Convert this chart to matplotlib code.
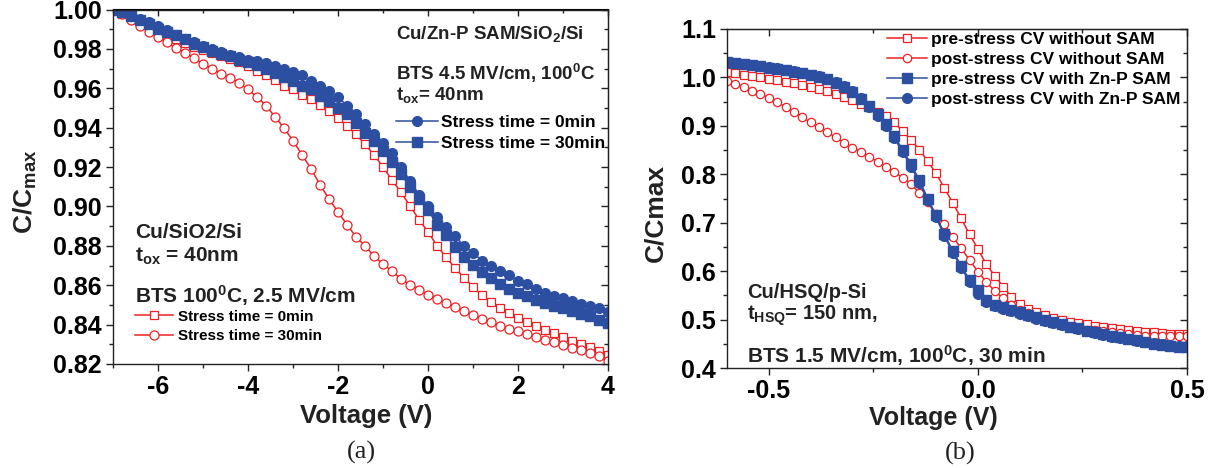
import matplotlib
matplotlib.use('Agg')
import matplotlib.pyplot as plt
from matplotlib.ticker import MultipleLocator, FormatStrFormatter, NullFormatter

plt.rcParams['font.family'] = ['Liberation Sans', 'DejaVu Sans']
plt.rcParams['font.weight'] = 'bold'
plt.rcParams['mathtext.fontset'] = 'custom'
plt.rcParams['mathtext.rm'] = 'Liberation Sans:bold'
plt.rcParams['mathtext.bf'] = 'Liberation Sans:bold'
plt.rcParams['mathtext.it'] = 'Liberation Sans:bold'
plt.rcParams['mathtext.default'] = 'bf'
plt.rcParams['axes.unicode_minus'] = False

#Panel (a): Cu/SiO2/Si with and without Zn-P SAM, gate sweep in V
volt_a = [-7.0, -6.8, -6.6, -6.4, -6.2, -6.0, -5.8, -5.6, -5.4, -5.2, -5.0, -4.8, -4.6, -4.4,
          -4.2, -4.0, -3.8, -3.6, -3.4, -3.2, -3.0, -2.8, -2.6, -2.4, -2.2, -2.0, -1.8, -1.6,
          -1.4, -1.2, -1.0, -0.8, -0.6, -0.4, -0.2, 0.0, 0.2, 0.4, 0.6, 0.8, 1.0, 1.2, 1.4, 1.6,
          1.8, 2.0, 2.2, 2.4, 2.6, 2.8, 3.0, 3.2, 3.4, 3.6, 3.8, 4.0]
nosam_0min = [1.000, 0.9975, 0.9955, 0.9935, 0.9913, 0.9893, 0.9873, 0.9852, 0.9832, 0.9812,
              0.9795, 0.9778, 0.9762, 0.9748, 0.9733, 0.9713, 0.9690, 0.9665, 0.9641, 0.9614,
              0.9594, 0.9568, 0.9546, 0.9517, 0.9487, 0.9450, 0.9410, 0.9366, 0.9316, 0.9262,
              0.9201, 0.9134, 0.9072, 0.9003, 0.8933, 0.8871, 0.8801, 0.8743, 0.8687, 0.8639,
              0.8593, 0.8548, 0.8515, 0.8482, 0.8457, 0.8432, 0.8412, 0.8391, 0.8373, 0.8356,
              0.8335, 0.8318, 0.8300, 0.8285, 0.8267, 0.8247]
nosam_30min = [1.000, 0.9975, 0.9946, 0.9915, 0.9887, 0.9859, 0.9834, 0.9804, 0.9780, 0.9753,
               0.9724, 0.9700, 0.9675, 0.9653, 0.9627, 0.9594, 0.9556, 0.9512, 0.9455, 0.9399,
               0.9333, 0.9263, 0.9191, 0.9111, 0.9038, 0.8971, 0.8908, 0.8845, 0.8801, 0.8747,
               0.8708, 0.8671, 0.8632, 0.8603, 0.8578, 0.8552, 0.8530, 0.8510, 0.8490, 0.8468,
               0.8451, 0.8429, 0.8412, 0.8395, 0.8380, 0.8366, 0.8353, 0.8337, 0.8324, 0.8310,
               0.8297, 0.8283, 0.8270, 0.8256, 0.8242, 0.8214]
sam_0min = [1.000, 0.9992, 0.9975, 0.9953, 0.9936, 0.9915, 0.9895, 0.9873, 0.9851, 0.9834,
            0.9814, 0.9797, 0.9783, 0.9771, 0.9760, 0.9746, 0.9736, 0.9726, 0.9712, 0.9699,
            0.9682, 0.9665, 0.9636, 0.9611, 0.9585, 0.9556, 0.9512, 0.9467, 0.9417, 0.9366,
            0.9320, 0.9270, 0.9200, 0.9130, 0.9060, 0.9000, 0.8946, 0.8896, 0.8850, 0.8800,
            0.8765, 0.8725, 0.8700, 0.8670, 0.8650, 0.8620, 0.8607, 0.8583, 0.8563, 0.8545,
            0.8533, 0.8520, 0.8503, 0.8494, 0.8482, 0.8462]
sam_30min = [1.000, 0.9986, 0.9966, 0.9946, 0.9924, 0.9903, 0.9885, 0.9868, 0.9848, 0.9827,
             0.9809, 0.9788, 0.9776, 0.9763, 0.9746, 0.9732, 0.9716, 0.9700, 0.9678, 0.9658,
             0.9636, 0.9611, 0.9594, 0.9560, 0.9534, 0.9500, 0.9467, 0.9422, 0.9375, 0.9332,
             0.9282, 0.9225, 0.9164, 0.9098, 0.9038, 0.8984, 0.8906, 0.8853, 0.8795, 0.8745,
             0.8701, 0.8668, 0.8635, 0.8605, 0.8581, 0.8561, 0.8544, 0.8527, 0.8510, 0.8496,
             0.8485, 0.8468, 0.8456, 0.8442, 0.8425, 0.8408]

#Panel (b): Cu/HSQ/p-Si, gate sweep in V
volt_b = [-0.60, -0.58, -0.56, -0.54, -0.52, -0.50, -0.48, -0.46, -0.44, -0.42, -0.40, -0.38,
          -0.36, -0.34, -0.32, -0.30, -0.28, -0.26, -0.24, -0.22, -0.20, -0.18, -0.16, -0.14,
          -0.12, -0.10, -0.08, -0.06, -0.04, -0.02, 0.00, 0.02, 0.04, 0.06, 0.08, 0.10, 0.12,
          0.14, 0.16, 0.18, 0.20, 0.22, 0.24, 0.26, 0.28, 0.30, 0.32, 0.34, 0.36, 0.38, 0.40,
          0.42, 0.44, 0.46, 0.48, 0.50]
pre_nosam = [1.012, 1.009, 1.006, 1.003, 1.000, 0.997, 0.994, 0.991, 0.988, 0.984,
             0.981, 0.977, 0.972, 0.966, 0.960, 0.954, 0.946, 0.938, 0.929, 0.920,
             0.907, 0.889, 0.871, 0.851, 0.827, 0.802, 0.771, 0.741, 0.709, 0.676,
             0.646, 0.614, 0.591, 0.568, 0.547, 0.532, 0.522, 0.515, 0.509, 0.504,
             0.500, 0.496, 0.493, 0.490, 0.487, 0.485, 0.483, 0.481, 0.479, 0.476,
             0.475, 0.4735, 0.472, 0.471, 0.4705, 0.470]
post_nosam = [0.993, 0.986, 0.980, 0.973, 0.966, 0.958, 0.949, 0.939, 0.928, 0.918,
              0.907, 0.898, 0.887, 0.876, 0.865, 0.855, 0.846, 0.836, 0.826, 0.816,
              0.805, 0.793, 0.780, 0.761, 0.743, 0.719, 0.697, 0.671, 0.647, 0.623,
              0.599, 0.578, 0.559, 0.544, 0.530, 0.520, 0.513, 0.506, 0.499, 0.494,
              0.489, 0.485, 0.482, 0.479, 0.478, 0.4755, 0.4735, 0.4715, 0.470, 0.4685,
              0.467, 0.4665, 0.4662, 0.466, 0.4658, 0.4655]
pre_sam = [1.031, 1.029, 1.027, 1.025, 1.023, 1.020, 1.018, 1.015, 1.012, 1.009,
           1.005, 1.001, 0.996, 0.989, 0.981, 0.970, 0.956, 0.940, 0.924, 0.904,
           0.879, 0.851, 0.821, 0.788, 0.750, 0.715, 0.676, 0.642, 0.611, 0.582,
           0.562, 0.540, 0.530, 0.525, 0.520, 0.515, 0.510, 0.505, 0.499, 0.494,
           0.490, 0.485, 0.482, 0.477, 0.474, 0.470, 0.467, 0.463, 0.460, 0.457,
           0.453, 0.450, 0.448, 0.446, 0.444, 0.443]
post_sam = [1.032, 1.030, 1.028, 1.026, 1.024, 1.021, 1.019, 1.016, 1.013, 1.010,
            1.006, 1.002, 0.997, 0.990, 0.982, 0.971, 0.957, 0.939, 0.921, 0.899,
            0.874, 0.846, 0.816, 0.783, 0.746, 0.711, 0.672, 0.638, 0.607, 0.578,
            0.552, 0.536, 0.527, 0.522, 0.517, 0.512, 0.507, 0.502, 0.497, 0.492,
            0.488, 0.484, 0.480, 0.476, 0.472, 0.469, 0.465, 0.462, 0.459, 0.456,
            0.453, 0.451, 0.449, 0.447, 0.446, 0.445]

RED = '#EE2024'
BLUE = '#2D4FA1'
W, H = 1210, 468

def fx(x): return x/W
def fy(y): return 1-y/H

def style_axes(ax, xmaj, xmin, ymaj, ymin, fs):
	ax.xaxis.set_major_locator(MultipleLocator(xmaj))
	ax.xaxis.set_minor_locator(MultipleLocator(xmin))
	ax.yaxis.set_major_locator(MultipleLocator(ymaj))
	ax.yaxis.set_minor_locator(MultipleLocator(ymin))
	ax.tick_params(which='major', direction='out', length=5, width=1, labelsize=fs, pad=3, color='#222222')
	ax.tick_params(which='minor', direction='out', length=3, width=1, color='#222222')
	for s in ax.spines.values():
		s.set_linewidth(1.0)
		s.set_color('#222222')
	#inward ticks on top and right
	top = ax.secondary_xaxis('top')
	top.xaxis.set_major_locator(MultipleLocator(xmaj))
	top.xaxis.set_minor_locator(MultipleLocator(xmin))
	top.xaxis.set_major_formatter(NullFormatter())
	top.tick_params(which='major', direction='in', length=5, width=1, color='#222222')
	top.tick_params(which='minor', direction='in', length=3, width=1, color='#222222')
	right = ax.secondary_yaxis('right')
	right.yaxis.set_major_locator(MultipleLocator(ymaj))
	right.yaxis.set_minor_locator(MultipleLocator(ymin))
	right.yaxis.set_major_formatter(NullFormatter())
	right.tick_params(which='major', direction='in', length=5, width=1, color='#222222')
	right.tick_params(which='minor', direction='in', length=3, width=1, color='#222222')
	for lab in ax.get_xticklabels()+ax.get_yticklabels():
		lab.set_fontweight('bold')

fig = plt.figure(figsize=(12.1,4.68), dpi=100)

######PANEL A########
ax1 = fig.add_axes([fx(113), fy(364), (608-113)/W, (364-9.5)/H])
l_rs, = ax1.plot(volt_a, nosam_0min, color=RED, lw=1.1, marker='s', ms=6, mfc='white', mec=RED, mew=0.9, label='Stress time = 0min')
l_rc, = ax1.plot(volt_a, nosam_30min, color=RED, lw=1.1, marker='o', ms=6.5, mfc='white', mec=RED, mew=0.9, label='Stress time = 30min')
l_bs, = ax1.plot(volt_a, sam_30min, color=BLUE, lw=1.1, marker='s', ms=6.5, mfc=BLUE, mec=BLUE, label='Stress time = 30min')
l_bc, = ax1.plot(volt_a, sam_0min, color=BLUE, lw=1.1, marker='o', ms=7, mfc=BLUE, mec=BLUE, label='Stress time = 0min')
ax1.set_xlim(-7, 4)
ax1.set_ylim(0.82, 1.00)
style_axes(ax1, 2, 1, 0.02, 0.01, 18)
ax1.yaxis.set_major_formatter(FormatStrFormatter('%.2f'))

leg_b = ax1.legend(handles=[l_bc, l_bs], loc='center left', bbox_to_anchor=(fx(396), fy(133)),
	bbox_transform=fig.transFigure, frameon=False, borderpad=0, borderaxespad=0,
	handlelength=2.4, handletextpad=0.2, labelspacing=0.3, prop={'size':12.5, 'weight':'bold'})
ax1.add_artist(leg_b)
ax1.legend(handles=[l_rs, l_rc], loc='center left', bbox_to_anchor=(fx(135), fy(326.5)),
	bbox_transform=fig.transFigure, frameon=False, borderpad=0, borderaxespad=0,
	handlelength=2.5, handletextpad=0.3, labelspacing=0.38, prop={'size':11, 'weight':'bold'})

fig.text(fx(396), fy(39), 'Cu/Zn-P SAM/SiO$_{2}$/Si', fontsize=13.5, fontweight='bold', va='baseline', color='#222222')
fig.text(fx(396), fy(80), 'BTS 4.5 MV/cm, 100$^{0}$C', fontsize=13.5, fontweight='bold', va='baseline', color='#222222')
fig.text(fx(396), fy(100), 't$_{ox}$= 40nm', fontsize=13.5, fontweight='bold', va='baseline', color='#222222')
fig.text(fx(135), fy(238), 'Cu/SiO2/Si', fontsize=15, fontweight='bold', va='baseline', color='#222222')
fig.text(fx(135), fy(262), 't$_{ox}$ = 40nm', fontsize=15, fontweight='bold', va='baseline', color='#222222')
fig.text(fx(135), fy(303), 'BTS 100$^{0}$C, 2.5 MV/cm', fontsize=15, fontweight='bold', va='baseline', color='#222222')

fig.text(fx(366), fy(423), 'Voltage (V)', fontsize=18.5, fontweight='bold', ha='center', va='baseline', color='#222222')
fig.text(fx(25), fy(192), 'C/C$_{max}$', fontsize=19, fontweight='bold', rotation=90, ha='center', va='center', color='#222222')
fig.text(fx(361), fy(452), '(a)', fontsize=19, family='Liberation Serif', fontweight='normal', ha='center', va='center', color='#222222')

######PANEL B########
ax2 = fig.add_axes([fx(727), fy(368), (1187-727)/W, (368-29)/H])
p_rs, = ax2.plot(volt_b, pre_nosam, color=RED, lw=1.1, marker='s', ms=5.5, mfc='white', mec=RED, mew=0.9, label='pre-stress CV without SAM')
p_rc, = ax2.plot(volt_b, post_nosam, color=RED, lw=1.1, marker='o', ms=6, mfc='white', mec=RED, mew=0.9, label='post-stress CV without SAM')
p_bs, = ax2.plot(volt_b, pre_sam, color=BLUE, lw=1.1, marker='s', ms=6.5, mfc=BLUE, mec=BLUE, label='pre-stress CV with Zn-P SAM')
p_bc, = ax2.plot(volt_b, post_sam, color=BLUE, lw=1.1, marker='o', ms=7, mfc=BLUE, mec=BLUE, label='post-stress CV with Zn-P SAM')
ax2.set_xlim(-0.6, 0.5)
ax2.set_ylim(0.4, 1.1)
style_axes(ax2, 0.5, 0.25, 0.1, 0.05, 18)
ax2.xaxis.set_major_formatter(FormatStrFormatter('%.1f'))
ax2.yaxis.set_major_formatter(FormatStrFormatter('%.1f'))
ax2.legend(handles=[p_rs, p_rc, p_bs, p_bc], loc='center left', bbox_to_anchor=(fx(887), fy(69.5)),
	bbox_transform=fig.transFigure, frameon=False, borderpad=0, borderaxespad=0,
	handlelength=2.3, handletextpad=0.25, labelspacing=0.28, prop={'size':12.5, 'weight':'bold'})

fig.text(fx(747), fy(298), 'Cu/HSQ/p-Si', fontsize=14.5, fontweight='bold', va='baseline', color='#222222')
fig.text(fx(747), fy(320), 't$_{HSQ}$= 150 nm,', fontsize=14.5, fontweight='bold', va='baseline', color='#222222')
fig.text(fx(747), fy(363), 'BTS 1.5 MV/cm, 100$^{0}$C, 30 min', fontsize=15, fontweight='bold', va='baseline', color='#222222')

fig.text(fx(933), fy(425), 'Voltage (V)', fontsize=18, fontweight='bold', ha='center', va='baseline', color='#222222')
fig.text(fx(655), fy(213), 'C/Cmax', fontsize=19, fontweight='bold', rotation=90, ha='center', va='center', color='#222222')
fig.text(fx(960), fy(453), '(b)', fontsize=19, family='Liberation Serif', fontweight='normal', ha='center', va='center', color='#222222')

fig.savefig('out.png', dpi=100)
